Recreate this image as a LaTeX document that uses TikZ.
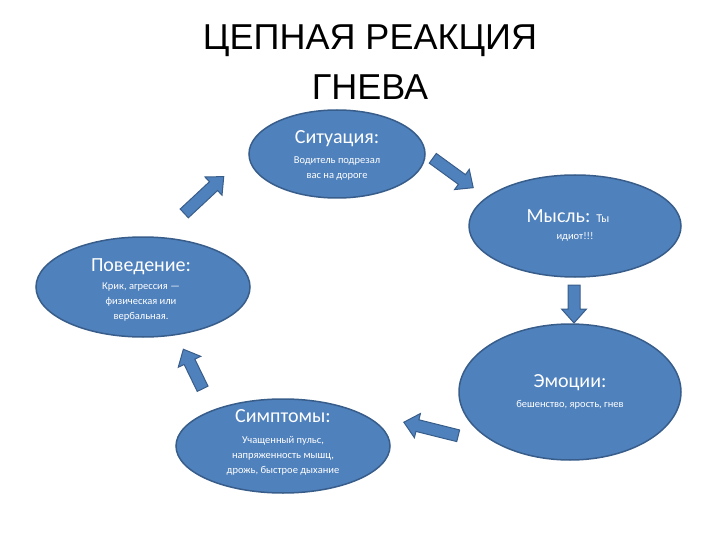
\documentclass[tikz,border=0pt]{standalone}
\usepackage{fontspec}
\setmainfont{Carlito}
\newfontfamily\titlefont{Liberation Sans}
\definecolor{bfill}{HTML}{4F81BD}
\definecolor{bline}{HTML}{385D8A}
\newcommand{\barr}[4]{% x, y, angle, length
  \begin{scope}[shift={(#1,#2)},rotate=#3]
    \path[barrow] (-#4/2,-6) -- (#4/2-14,-6) -- (#4/2-14,-12.5) -- (#4/2,0) -- (#4/2-14,12.5) -- (#4/2-14,6) -- (-#4/2,6) -- cycle;
  \end{scope}}
\begin{document}
\begin{tikzpicture}[x=1pt,y=-1pt,
  hd/.style={text=white,font=\fontsize{20}{22}\selectfont,inner sep=0pt},
  sm/.style={text=white,font=\fontsize{10.5}{15}\selectfont,align=center,inner sep=0pt},
  barrow/.style={draw=bline,fill=bfill,line width=1pt,line join=miter}]
\useasboundingbox (0,0) rectangle (720,540);
\node[font=\titlefont\fontsize{36}{50}\selectfont,align=center] (title) at (370,62) {ЦЕПНАЯ РЕАКЦИЯ\\ГНЕВА};
\path[fill=bfill,draw=bline,line width=1.5pt]
  (337,154) ellipse [x radius=88,y radius=44]
  (575,226) ellipse [x radius=106,y radius=51]
  (143,287) ellipse [x radius=107,y radius=50]
  (570,392) ellipse [x radius=111,y radius=68]
  (283,446) ellipse [x radius=107,y radius=47];
\node[hd] (s1) at (337,139) {Ситуация:};
\node[sm] (s2) at (337,168) {Водитель подрезал\\вас на дороге};
\node[hd] (m1) at (568,216) {Мысль: {\fontsize{12}{12}\selectfont Ты}};
\node[sm] (m2) at (575,237) {идиот!!!};
\node[hd] (p1) at (141,267) {Поведение:};
\node[sm] (p2) at (141,302) {Крик, агрессия —\\физическая или\\вербальная.};
\node[hd] (e1) at (570,383) {Эмоции:};
\node[sm] (e2) at (570,405) {бешенство, ярость, гнев};
\node[hd] (c1) at (283,416) {Симптомы:};
\node[sm] (c2) at (283,456) {Учащенный пульс,\\напряженность мышц,\\дрожь, быстрое дыхание};
\barr{204}{195}{43}{54}
\barr{453}{173}{-36}{50}
\barr{574}{304}{-90}{38}
\barr{431}{429}{166}{56}
\barr{193}{369}{116}{44}
\end{tikzpicture}
\end{document}
